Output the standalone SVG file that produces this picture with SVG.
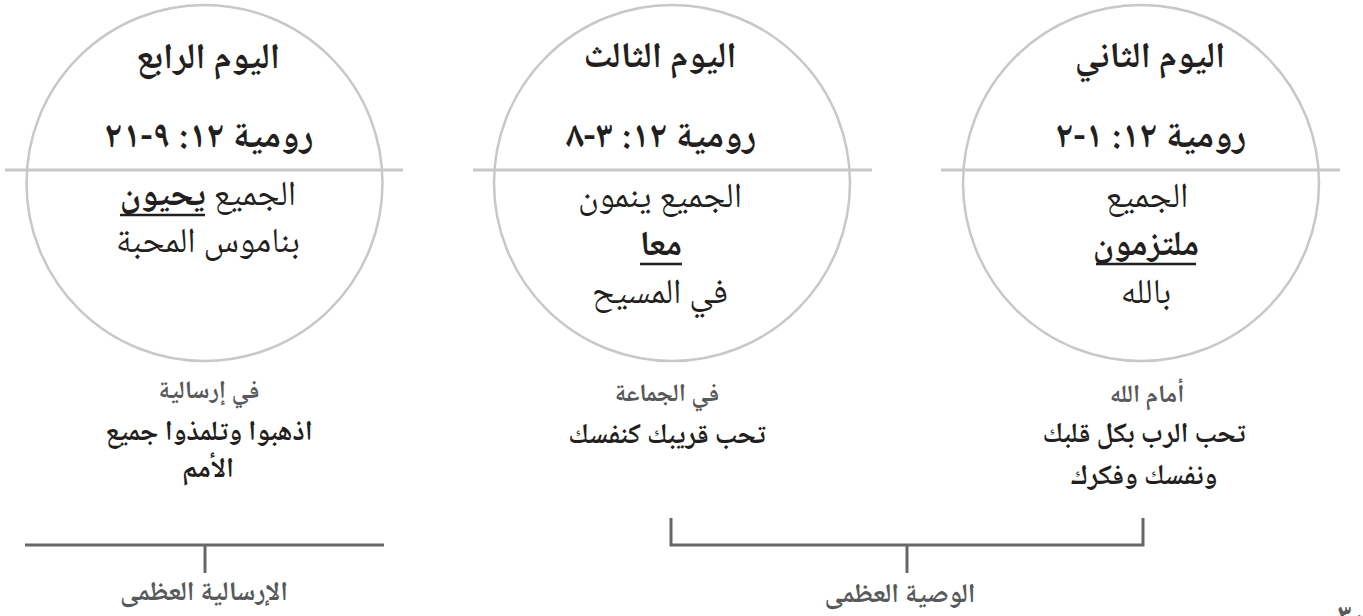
<svg xmlns="http://www.w3.org/2000/svg" width="1363" height="616" viewBox="0 0 1363 616">
<style>
text{font-family:"Noto Naskh Arabic","Noto Sans Arabic","DejaVu Sans",sans-serif;text-anchor:middle;direction:rtl;fill:#231f20}
.ring{fill:none;stroke:#c8c8c8;stroke-width:2.5}
.div{stroke:#c8c8c8;stroke-width:3}
.t{font-size:36px;font-weight:bold}
.r{font-size:37px;font-weight:bold}
.b{font-size:35px}
.u{font-weight:bold}
.ul{stroke:#231f20;stroke-width:2.5}
.g{font-size:25px;font-weight:bold;fill:#58595b}
.s{font-size:28px;font-weight:bold}
.lbl{font-size:27px;font-weight:bold;fill:#58595b}
.con{fill:none;stroke:#666;stroke-width:3}
</style>
<rect width="1363" height="616" fill="#fff"/>
<g id="day4">
<circle class="ring" cx="204.5" cy="183" r="178"/>
<line class="div" x1="5" y1="170" x2="403" y2="170"/>
<text class="t" x="208" y="68">اليوم الرابع</text>
<text class="r" x="209" y="147">رومية ١٢: ٩-٢١</text>
<text class="b" x="208" y="205">الجميع <tspan class="u">يحيون</tspan></text>
<line class="ul" x1="120" y1="215" x2="205" y2="215"/>
<text class="b" x="208" y="252">بناموس المحبة</text>
</g>
<g id="day3">
<circle class="ring" cx="672" cy="183" r="178"/>
<line class="div" x1="473" y1="170" x2="872" y2="170"/>
<text class="t" x="660" y="67">اليوم الثالث</text>
<text class="r" x="661" y="147">رومية ١٢: ٣-٨</text>
<text class="b" x="660" y="207">الجميع ينمون</text>
<text class="b u" x="661" y="255">معا</text>
<line class="ul" x1="640" y1="264" x2="682" y2="264"/>
<text class="b" x="660" y="303">في المسيح</text>
</g>
<g id="day2">
<circle class="ring" cx="1141" cy="183" r="178"/>
<line class="div" x1="941" y1="170" x2="1340" y2="170"/>
<text class="t" x="1150" y="67">اليوم الثاني</text>
<text class="r" x="1151" y="147">رومية ١٢: ١-٢</text>
<text class="b" x="1147" y="207">الجميع</text>
<text class="b u" x="1146" y="255">ملتزمون</text>
<line class="ul" x1="1096" y1="264" x2="1196" y2="264"/>
<text class="b" x="1146" y="303">بالله</text>
</g>
<g id="mission-note">
<text class="g" x="209" y="398">في إرسالية</text>
<text class="s" x="209" y="440">اذهبوا وتلمذوا جميع</text>
<text class="s" x="208" y="477">الأمم</text>
</g>
<g id="community-note">
<text class="g" x="667" y="401">في الجماعة</text>
<text class="s" x="667" y="443">تحب قريبك كنفسك</text>
</g>
<g id="god-note">
<text class="g" x="1147" y="402">أمام الله</text>
<text class="s" x="1144" y="442">تحب الرب بكل قلبك</text>
<text class="s" x="1144" y="484">ونفسك وفكرك</text>
</g>
<g id="connectors">
<line class="con" x1="25" y1="545" x2="384" y2="545"/>
<line class="con" x1="205" y1="545" x2="205" y2="573"/>
<path class="con" d="M671 518V545H1143V518"/>
<line class="con" x1="907" y1="545" x2="907" y2="573"/>
</g>
<g id="great-mission">
<text class="lbl" x="204" y="600">الإرسالية العظمى</text>
</g>
<g id="great-commandment">
<text class="lbl" x="900" y="602">الوصية العظمى</text>
</g>
<text class="lbl" x="1352" y="625" style="font-size:30px">٣٠</text>
</svg>
